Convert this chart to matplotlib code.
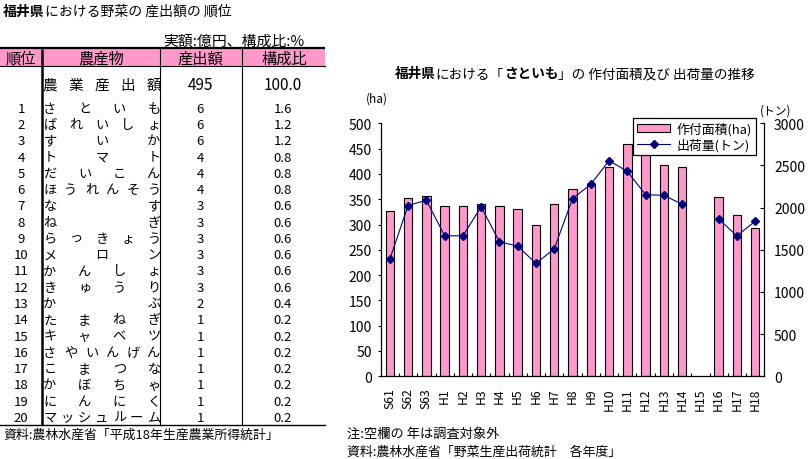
import numpy as np
import matplotlib
matplotlib.use('Agg')
import matplotlib.pyplot as plt
from matplotlib.patches import Rectangle, Patch
from matplotlib.lines import Line2D

plt.rcParams['font.family'] = ['Noto Sans CJK JP', 'DejaVu Sans']

# ---------------- data ----------------
table_title = [("福井県", True), ("における野菜の 産出額の 順位", False)]
unit_text = "実額:億円、構成比:%"
headers = ["順位", "農産物", "産出額", "構成比"]
total_label = "農業産出額"
total_value = 495
total_share = 100.0
ranks = list(range(1, 21))
crops = ["さといも", "ばれいしょ", "すいか", "トマト", "だいこん", "ほうれんそう",
         "なす", "ねぎ", "らっきょう", "メロン", "かんしょ", "きゅうり", "かぶ",
         "たまねぎ", "キャベツ", "さやいんげん", "こまつな", "かぼちゃ", "にんにく",
         "マッシュルーム"]
crop_values = [6, 6, 6, 4, 4, 4, 3, 3, 3, 3, 3, 3, 2, 1, 1, 1, 1, 1, 1, 1]
crop_shares = [1.6, 1.2, 1.2, 0.8, 0.8, 0.8, 0.6, 0.6, 0.6, 0.6, 0.6, 0.6, 0.4,
               0.2, 0.2, 0.2, 0.2, 0.2, 0.2, 0.2]
table_source = "資料:農林水産省「平成18年生産農業所得統計」"

chart_title = [("福井県", True), ("における「", False), ("さといも", True),
               ("」の 作付面積及び 出荷量の推移", False)]
years = ["S61", "S62", "S63", "H1", "H2", "H3", "H4", "H5", "H6", "H7", "H8",
         "H9", "H10", "H11", "H12", "H13", "H14", "H15", "H16", "H17", "H18"]
area_ha = [326, 352, 356, 336, 336, 340, 336, 331, 300, 340, 371,
           380, 414, 460, 445, 418, 414, np.nan, 354, 319, 293]
shipment_t = [1390, 2025, 2088, 1666, 1666, 2010, 1595, 1544, 1338, 1512, 2106,
              2277, 2557, 2431, 2153, 2146, 2040, np.nan, 1866, 1665, 1839]
area_label = "作付面積(ha)"
ship_label = "出荷量(トン)"
left_unit = "(ha)"
right_unit = "(トン)"
note1 = "注:空欄の 年は調査対象外"
note2 = "資料:農林水産省「野菜生産出荷統計　各年度」"

PINK = '#FF99CC'
NAVY = '#000080'

W, H = 808, 460
fig = plt.figure(figsize=(W / 100, H / 100), dpi=100)
fig.patch.set_facecolor('white')

ov = fig.add_axes([0, 0, 1, 1])
ov.set_xlim(0, W)
ov.set_ylim(H, 0)
ov.axis('off')
ov.set_zorder(0)

renderer = fig.canvas.get_renderer()


def pieces_text(pieces, x, y, size, align='left'):
    objs, widths = [], []
    for s, bold in pieces:
        t = ov.text(0, y, s, fontsize=size, fontweight='bold' if bold else 'normal',
                    va='center', ha='left')
        bb = t.get_window_extent(renderer=renderer)
        objs.append(t)
        widths.append(bb.width)
    total = sum(widths)
    cx = x - total / 2 if align == 'center' else x
    for t, w in zip(objs, widths):
        t.set_x(cx)
        cx += w


def spread_text(name, y, x0=50, x1=154, size=9.5):
    n = len(name)
    for j, ch in enumerate(name):
        cx = x0 + j * (x1 - x0) / (n - 1) if n > 1 else (x0 + x1) / 2
        ov.text(cx, y, ch, ha='center', va='center', fontsize=size)


# ---------------- table ----------------
pieces_text(table_title, 3, 12, 10)
ov.text(304, 42, unit_text, ha='right', va='center', fontsize=10.7)
ov.plot([0, 325], [49, 49], color='black', lw=1.6, solid_capstyle='butt')
ov.add_patch(Rectangle((0, 50), 325, 17, facecolor=PINK, edgecolor='none'))
ov.plot([0, 325], [67, 67], color='black', lw=0.8)
hdr_x = [20.5, 101, 200, 284]
for hx, ht in zip(hdr_x, headers):
    ov.text(hx, 59, ht, ha='center', va='center', fontsize=11)
ov.plot([42, 42], [50, 426], color='black', lw=1.8, solid_capstyle='butt')
ov.plot([160, 160], [50, 426], color='black', lw=0.8)
ov.plot([242, 242], [50, 426], color='black', lw=0.8)
ov.plot([0, 325], [426, 426], color='black', lw=1.0)

spread_text(total_label, 86, size=10.5)
ov.text(200, 86, f"{total_value}", ha='center', va='center', fontsize=11)
ov.text(283, 86, f"{total_share:.1f}", ha='center', va='center', fontsize=11)
row_y0, row_dy = 109.3, 16.27
for i, (r, c, v, s) in enumerate(zip(ranks, crops, crop_values, crop_shares)):
    y = row_y0 + i * row_dy
    ov.text(21, y, str(r), ha='center', va='center', fontsize=9.5)
    spread_text(c, y)
    ov.text(200, y, str(v), ha='center', va='center', fontsize=9.5)
    ov.text(283, y, f"{s:.1f}", ha='center', va='center', fontsize=9.5)
ov.text(3, 435, table_source, ha='left', va='center', fontsize=9.3)

# ---------------- chart ----------------
pieces_text(chart_title, 575, 74, 9.8, align='center')
ov.text(377, 99, left_unit, ha='center', va='center', fontsize=8.5)
ov.text(776, 111, right_unit, ha='center', va='center', fontsize=8.5)
ov.text(347, 434, note1, ha='left', va='center', fontsize=9.5)
ov.text(347, 452, note2, ha='left', va='center', fontsize=9.3)

ax_l, ax_r, ax_t, ax_b = 380.7, 764.3, 124.3, 377.3
ax = fig.add_axes([ax_l / W, (H - ax_b) / H, (ax_r - ax_l) / W, (ax_b - ax_t) / H])
ax.set_zorder(1)
ax.patch.set_alpha(0)
x = np.arange(len(years))
ax.bar(x, area_ha, width=0.46, color=PINK, edgecolor='black', linewidth=0.8, zorder=2)
ax.set_xlim(-0.5, len(years) - 0.5)
ax.set_ylim(0, 500)
ax.set_yticks(np.arange(0, 501, 50))
ax.set_xticks(x)
ax.set_xticklabels(years, rotation=90, va='top', ha='center', fontsize=8.8)
ax.set_xticks(np.arange(0.5, len(years) - 0.5, 1), minor=True)
ax.tick_params(axis='x', which='major', length=0, pad=8)
ax.tick_params(axis='x', which='minor', direction='in', length=2.5, width=0.8)
ax.tick_params(axis='y', direction='out', length=2.5, width=0.8, labelsize=10, pad=4)
for sp in ['top', 'right']:
    ax.spines[sp].set_visible(False)
for sp in ['left', 'bottom']:
    ax.spines[sp].set_linewidth(0.9)

ax2 = ax.twinx()
ax2.plot(x, shipment_t, color=NAVY, marker='D', ms=4.5, lw=0.8, zorder=3)
ax2.set_ylim(0, 3000)
ax2.set_yticks(np.arange(0, 3001, 500))
ax2.tick_params(axis='y', direction='in', length=3, width=0.8, labelsize=10, pad=7)
for sp in ['top', 'left', 'bottom']:
    ax2.spines[sp].set_visible(False)
ax2.spines['right'].set_linewidth(0.9)

handles = [Patch(facecolor=PINK, edgecolor='black', linewidth=0.8),
           Line2D([], [], color=NAVY, marker='D', ms=4.5, lw=0.8)]
leg = fig.legend(handles, [area_label, ship_label], loc='upper left',
                 bbox_to_anchor=(633 / W, 1 - 119 / H), borderaxespad=0,
                 frameon=True, fancybox=False, framealpha=1, edgecolor='black',
                 fontsize=9.3, handlelength=2.6, handleheight=0.6,
                 labelspacing=0.2, borderpad=0.3, handletextpad=0.5)
leg.get_frame().set_linewidth(0.9)
leg.set_zorder(10)

fig.savefig('out.png', dpi=100, facecolor='white')
